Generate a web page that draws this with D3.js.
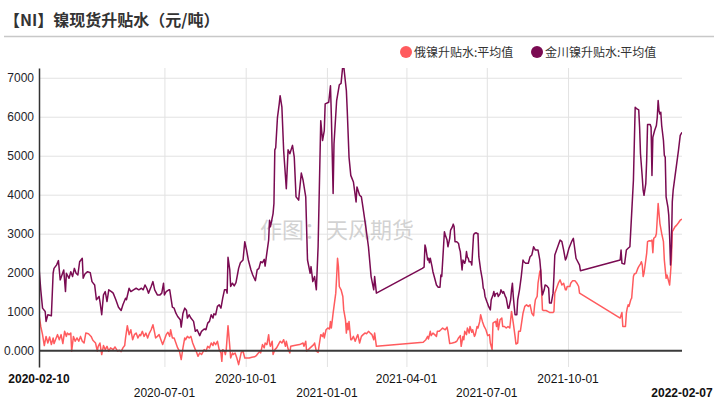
<!DOCTYPE html>
<html>
<head>
<meta charset="utf-8">
<script src="https://cdn.jsdelivr.net/npm/d3@7"></script>
<style>
  html, body { margin: 0; padding: 0; background: #fff; }
  svg { display: block; font-family: "Liberation Sans", Arial, sans-serif; }
</style>
</head>
<body>
<svg id="chart" width="718" height="405"></svg>
<script>
// NI spot premium/discount chart
const TITLE = "【NI】镍现货升贴水（元/吨）";
const WATERMARK = "作图：天风期货";
const seriesNames = ["俄镍升贴水:平均值", "金川镍升贴水:平均值"];
const seriesColors = ["#ff5b5e", "#7a0b52"];
const yTicks = [0, 1000, 2000, 3000, 4000, 5000, 6000, 7000];
const xTicks = ["2020-02-10", "2020-07-01", "2020-10-01", "2021-01-01", "2021-04-01", "2021-07-01", "2021-10-01", "2022-02-07"];
const START = "2020-02-10";

// [days since START, value]
const ruSeries = [
  [0,920],[2,620],[4,410],[6,130],[8,365],[10,195],[12,350],[14,155],[16,325],[17,180],[19,300],[21,410],[23,280],[25,410],[27,180],
  [29,495],[31,365],[32,450],[34,410],[36,450],[37,-15],[39,365],[41,240],[43,325],[45,240],[47,365],[49,240],[51,195],[53,450],
  [56,435],[59,365],[61,265],[64,195],[66,-15],[67,110],[69,195],[71,-100],[73,130],[75,25],[77,110],[79,-15],[81,70],[84,25],
  [86,95],[89,-15],[91,10],[93,-25],[95,70],[97,130],[98,325],[100,640],[102,410],[104,535],[106,280],[108,410],[110,450],[112,325],
  [114,410],[115,385],[117,495],[119,365],[121,450],[123,325],[125,450],[127,535],[129,665],[131,450],[132,325],[134,365],[136,410],
  [138,280],[140,155],[142,280],[144,410],[146,470],[148,365],[149,535],[151,325],[153,325],[155,195],[157,70],[159,-15],[161,-230],
  [163,70],[165,325],[166,280],[168,365],[170,325],[172,365],[174,195],[177,25],[178,-15],[180,-145],[182,-60],[184,-100],[187,25],
  [189,-15],[191,110],[193,70],[195,195],[197,130],[198,215],[200,155],[202,240],[204,25],[206,-60],[207,-275],[208,25],[210,-15],
  [211,-100],[212,25],[214,640],[216,110],[217,-190],[219,-60],[220,-100],[222,-60],[224,-190],[226,-360],[228,-145],[229,-45],
  [231,-15],[233,-190],[235,-190],[238,-190],[241,-170],[244,-160],[246,-130],[247,-100],[250,-15],[251,-60],[253,155],[255,70],
  [256,195],[258,155],[260,410],[261,195],[262,110],[264,240],[265,-100],[267,25],[269,70],[271,155],[273,240],[275,195],[277,280],
  [279,110],[280,240],[282,45],[284,-60],[285,110],[289,130],[295,155],[299,195],[300,110],[302,240],[303,-15],[307,70],[311,155],
  [312,195],[314,-15],[316,-45],[317,110],[319,410],[321,365],[322,450],[323,325],[325,535],[327,580],[329,555],[330,750],[331,580],
  [333,960],[334,1135],[336,1475],[337,1900],[338,2370],[339,2155],[340,1645],[342,1560],[344,1390],[345,1045],[347,790],[348,450],
  [349,705],[350,535],[351,750],[353,280],[354,280],[356,365],[358,240],[360,365],[361,410],[363,195],[365,365],[367,410],[369,450],
  [371,435],[373,495],[375,450],[377,410],[379,280],[380,450],[382,110],
  [435,215],[438,280],[440,365],[441,300],[443,495],[444,385],[446,450],[448,410],[450,365],[451,495],[453,495],[455,535],[457,580],
  [460,535],[462,605],[463,495],[465,180],[468,195],[471,215],[473,240],[475,325],[477,385],[478,110],[480,365],[481,280],[482,495],
  [484,410],[485,580],[487,450],[488,620],[490,470],[491,535],[493,365],[494,410],[496,620],[497,580],[499,750],[500,920],[502,750],
  [504,620],[506,535],[508,385],[510,410],[511,195],[513,25],[514,705],[515,725],[517,750],[518,620],[519,810],[520,535],[522,790],
  [524,835],[525,620],[527,620],[529,580],[531,620],[533,580],[535,1005],[537,705],[539,365],[540,170],[542,195],[543,495],[545,500],
  [548,960],[550,1135],[552,1175],[554,1135],[556,1175],[558,960],[560,895],[561,1135],[562,1305],[564,1390],[565,1730],[567,2025],
  [568,2070],[570,1045],[571,1030],[574,1030],[576,1005],[578,980],[582,980],[583,1005],[584,1475],[586,1600],[588,1730],[590,1815],
  [592,1685],[594,1730],[596,1560],[597,1560],[598,1645],[601,1645],[602,1730],[604,1790],[607,1790],[609,1730],[611,1645],[612,1475],
  [658,835],[660,980],[661,620],[664,620],[665,960],[666,1090],[667,1175],[668,1135],[670,1305],[671,1345],[673,1900],[674,1965],
  [676,1985],[678,2110],[679,2155],[681,2225],[682,2280],[683,2195],[684,1900],[685,1985],[687,2325],[688,2495],[689,2795],[691,2820],
  [693,2810],[694,2835],[695,2510],[696,2880],[698,2920],[699,3005],[701,3775],[702,3515],[703,3260],[705,3005],[707,2795],[708,2325],
  [710,1855],[711,1940],[712,1855],[714,1685],[715,1985],[716,2325],[717,3050],[718,3090],[720,3175],[722,3220],[724,3280],[726,3345],
  [728,3375]
];

const jcSeries = [
  [0,2130],[2,1560],[4,1090],[7,1005],[8,750],[10,920],[14,895],[16,1985],[17,2110],[20,2200],[22,2310],[24,1815],[26,1940],[28,2070],
  [30,1515],[31,1985],[34,1855],[36,2025],[38,1900],[40,2110],[42,1985],[44,1940],[46,2280],[49,2370],[50,1855],[52,1965],[55,2025],
  [58,2000],[60,1770],[63,1685],[65,1305],[68,1390],[69,1260],[71,920],[73,1430],[75,1515],[77,1260],[79,1560],[82,1515],[84,1475],
  [87,1305],[90,1115],[93,1030],[95,1175],[98,1345],[99,1305],[102,1600],[104,1515],[107,1560],[110,1600],[113,1560],[116,1600],
  [118,1560],[120,1685],[122,1600],[124,1475],[127,1645],[129,1770],[131,1560],[134,1430],[137,1430],[139,1475],[141,1730],[142,1430],
  [144,1515],[147,1560],[148,1560],[151,1115],[153,1090],[155,960],[157,875],[160,790],[161,605],[163,960],[165,1090],[167,1030],
  [168,835],[170,920],[172,835],[175,750],[177,495],[179,535],[182,385],[184,495],[187,555],[189,535],[191,705],[193,750],[195,920],
  [197,835],[198,945],[200,920],[202,1135],[204,1175],[206,1090],[208,1345],[210,1560],[212,1560],[213,1475],[214,2395],[216,2070],
  [217,1645],[219,1730],[221,1660],[223,1745],[225,1985],[226,2110],[228,2255],[231,2325],[233,2795],[235,2580],[237,2325],[240,2070],
  [242,1940],[245,1795],[247,2070],[249,2110],[251,2280],[253,2255],[255,2340],[256,2170],[258,2510],[260,2835],[261,3345],[262,3175],
  [265,3515],[266,3775],[267,5150],[268,5205],[270,5985],[272,6330],[273,6540],[275,6245],[277,5135],[280,4155],[282,5150],[284,5050],
  [287,5265],[289,4965],[291,3945],[294,3860],[295,4115],[297,4555],[299,4370],[302,3945],[304,2325],[307,1985],[308,2155],[310,1770],
  [312,1900],[314,1560],[316,2665],[319,5900],[321,5390],[323,5645],[324,6330],[328,6370],[330,6795],[331,6030],[333,4030],[334,5305],
  [337,6415],[340,6820],[342,6855],[344,7320],[345,7300],[348,6670],[349,6155],[351,4965],[353,4495],[356,4325],[359,3815],[360,4200],
  [363,3985],[365,3945],[367,3645],[370,3175],[373,2665],[376,1900],[379,1560],[380,1900],[382,1475],
  [434,2110],[436,2140],[437,2710],[438,2625],[440,2325],[441,2370],[442,2255],[443,2370],[445,2155],[446,2025],[448,1855],[450,1685],
  [452,1625],[454,1625],[455,1940],[456,1900],[458,2665],[459,3050],[460,2965],[462,2835],[463,2665],[465,2880],[466,3090],[468,3175],
  [469,3245],[470,3175],[471,2795],[473,2795],[475,2750],[476,2625],[477,2540],[479,2070],[480,2325],[482,2240],[483,2325],[484,2540],
  [485,2395],[486,2370],[487,2280],[489,2280],[490,2195],[492,2965],[493,3005],[495,3025],[496,3005],[497,3005],[498,2410],[500,2070],
  [502,1815],[503,1600],[504,1560],[505,1390],[507,1260],[508,1200],[509,1135],[511,1045],[512,1305],[514,1430],[515,1515],[516,1390],
  [517,1455],[519,1475],[520,1390],[522,1455],[523,1560],[525,1475],[526,1515],[528,1390],[529,1345],[531,1090],[532,1090],[534,1305],
  [535,1560],[536,1730],[537,1390],[538,1135],[539,920],[541,920],[542,1305],[544,1560],[546,1900],[548,2325],[549,2280],[551,2240],
  [554,2240],[556,2410],[558,2455],[560,2665],[562,2580],[565,2580],[567,2325],[568,2070],[569,1645],[570,1430],[572,1560],[573,1685],
  [575,1660],[577,1600],[578,1220],[580,1220],[582,1475],[583,1900],[584,2455],[586,2580],[588,2710],[590,2835],[592,2795],[594,2580],
  [596,2325],[597,2370],[598,2455],[600,2625],[603,2795],[605,2880],[606,2710],[608,2370],[609,2325],[612,2195],[613,2050],
  [658,2325],[659,2580],[660,2240],[662,2225],[663,2225],[665,2580],[667,2625],[669,2665],[671,3515],[673,4370],[674,5305],[675,6245],
  [677,6200],[679,6175],[680,5730],[681,5050],[683,4455],[684,4115],[685,3985],[687,4285],[688,4880],[689,5800],[692,5800],[693,5730],
  [694,4495],[695,5475],[697,5645],[699,5775],[700,5985],[701,6415],[702,6155],[703,6070],[704,6115],[705,5775],[707,5390],[708,5010],
  [709,4965],[710,3945],[712,3690],[713,3475],[714,2920],[715,2195],[716,2665],[717,3815],[718,4115],[720,4455],[722,4795],[724,5135],
  [726,5520],[728,5600]
];

const svg = d3.select("#chart");
const parseDate = d3.timeParse("%Y-%m-%d");
const start = parseDate(START);
const plot = { left: 39, right: 682, top: 68, bottom: 367 };

const x = d3.scaleTime()
  .domain([parseDate(xTicks[0]), parseDate(xTicks[xTicks.length - 1])])
  .range([plot.left, plot.right]);
const y = d3.scaleLinear().domain([-420, 7250]).range([plot.bottom, plot.top]);

// title + rule
svg.append("text")
  .attr("x", 4).attr("y", 26)
  .attr("font-family", "'Noto Sans CJK SC', sans-serif")
  .attr("font-size", 16).attr("font-weight", "bold").attr("fill", "#333")
  .text(TITLE);
svg.append("line")
  .attr("x1", 4).attr("x2", 714).attr("y1", 36.5).attr("y2", 36.5)
  .attr("stroke", "#c8c8c8").attr("stroke-width", 1.5);

// legend
const legendX = [406, 537];
seriesNames.forEach((name, i) => {
  svg.append("circle").attr("cx", legendX[i]).attr("cy", 52).attr("r", 6).attr("fill", seriesColors[i]);
  svg.append("text")
    .attr("x", legendX[i] + 8).attr("y", 56.5)
    .attr("font-family", "'Noto Sans CJK SC', sans-serif")
    .attr("font-size", 12).attr("fill", "#333")
    .text(name);
});

// grid
const xGridDates = xTicks.slice(1, -1).map(parseDate);
svg.append("g")
  .attr("transform", `translate(0,${plot.bottom})`)
  .call(d3.axisBottom(x).tickValues(xGridDates).tickSize(-(plot.bottom - plot.top)).tickFormat(""))
  .call(g => g.select(".domain").remove())
  .call(g => g.selectAll("line").attr("stroke", "#e2e2e2").attr("stroke-width", 1));
svg.append("g")
  .attr("transform", `translate(${plot.left},0)`)
  .call(d3.axisLeft(y).tickValues(yTicks.slice(1)).tickSize(-(plot.right - plot.left)).tickFormat(""))
  .call(g => g.select(".domain").remove())
  .call(g => g.selectAll("line").attr("stroke", "#e2e2e2").attr("stroke-width", 1));

// watermark
svg.append("text")
  .attr("x", 260).attr("y", 238)
  .attr("font-family", "'Noto Sans CJK SC', sans-serif")
  .attr("font-size", 22).attr("fill", "#c4c4c4").attr("fill-opacity", 0.75)
  .text(WATERMARK);

// series
svg.append("clipPath").attr("id", "clip")
  .append("rect")
  .attr("x", plot.left).attr("y", plot.top)
  .attr("width", plot.right - plot.left).attr("height", plot.bottom - plot.top);

const line = d3.line()
  .x(d => x(d3.timeDay.offset(start, d[0])))
  .y(d => y(d[1]));

[ruSeries, jcSeries].forEach((s, i) => {
  svg.append("path")
    .datum(s)
    .attr("clip-path", "url(#clip)")
    .attr("fill", "none")
    .attr("stroke", seriesColors[i])
    .attr("stroke-width", 1.5)
    .attr("stroke-linejoin", "round")
    .attr("d", line);
});

// zero line
svg.append("line")
  .attr("x1", plot.left).attr("x2", plot.right)
  .attr("y1", y(0)).attr("y2", y(0))
  .attr("stroke", "#3a3a3a").attr("stroke-width", 2);

// y axis
svg.append("g")
  .attr("transform", `translate(${plot.left},0)`)
  .call(d3.axisLeft(y).tickValues(yTicks).tickSize(0).tickPadding(5)
    .tickFormat(d => d === 0 ? "0.000" : String(d)))
  .call(g => g.select(".domain").attr("stroke", "#333").attr("stroke-width", 1.5))
  .call(g => g.selectAll("text").attr("font-size", 12).attr("fill", "#1e1e2a")
    .attr("font-family", "'Liberation Sans', Arial, sans-serif"));

// x labels, staggered on two rows
svg.append("g")
  .selectAll("text")
  .data(xTicks)
  .join("text")
  .attr("x", d => x(parseDate(d)))
  .attr("y", (d, i) => i % 2 === 1 ? 397 : 383)
  .attr("text-anchor", "middle")
  .attr("font-size", 12)
  .attr("font-weight", (d, i) => (i === 0 || i === xTicks.length - 1) ? "bold" : "normal")
  .attr("fill", "#111")
  .text(d => d);
</script>
</body>
</html>
